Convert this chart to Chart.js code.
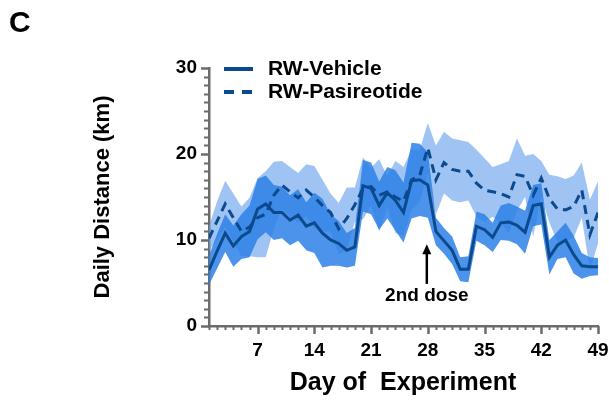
<!DOCTYPE html>
<html>
<head>
<meta charset="utf-8">
<script src="https://cdn.jsdelivr.net/npm/chart.js@4.4.1/dist/chart.umd.min.js"></script>
<style>
  html, body { margin: 0; padding: 0; background: #fff; }
  #wrap { position: relative; width: 609px; height: 407px; }
</style>
</head>
<body>
<div id="wrap"><canvas id="chart" role="img" aria-label="Daily running distance per day for RW-Vehicle and RW-Pasireotide"></canvas></div>
<script>
// Día del experimento
const days = [1, 2, 3, 4, 5, 6, 7, 8, 9, 10, 11, 12, 13, 14, 15, 16, 17, 18, 19, 20,
  21, 22, 23, 24, 25, 26, 27, 28, 29, 30, 31, 32, 33, 34, 35, 36, 37, 38, 39, 40,
  41, 42, 43, 44, 45, 46, 47, 48, 49];

// RW-Vehicle: media y SEM (km)
const vehicleMean = [6.5, 8.7, 10.8, 9.3, 10.4, 11.0, 13.6, 14.2, 13.2, 13.2,
  12.3, 12.9, 11.6, 12.0, 10.8, 10.0, 9.6, 8.8, 9.2, 16.3,
  16.0, 14.0, 15.5, 14.6, 13.2, 16.9, 17.0, 16.4, 11.0, 9.9,
  8.8, 6.6, 6.6, 11.6, 11.2, 10.3, 12.0, 12.1, 11.7, 10.9,
  14.0, 14.2, 8.0, 9.4, 10.0, 8.3, 7.0, 6.9, 6.9];
const vehicleSem = [1.7, 2.0, 2.2, 2.4, 2.6, 3.0, 3.5, 3.3, 3.2, 3.0,
  2.9, 3.0, 2.8, 3.5, 4.0, 3.0, 2.6, 2.0, 2.2, 3.0,
  3.0, 2.8, 3.0, 3.5, 3.5, 4.4, 4.2, 3.8, 1.6, 1.5,
  1.6, 1.4, 1.5, 1.7, 1.8, 1.7, 2.0, 2.2, 2.2, 2.5,
  2.4, 2.4, 2.0, 1.6, 2.0, 2.2, 1.5, 1.1, 1.0];

// RW-Pasireotide: media y SEM (km)
const pasMean = [10.2, 12.2, 14.2, 12.6, 11.0, 11.5, 12.6, 13.0, 15.2, 16.4,
  15.6, 14.9, 15.8, 15.0, 14.0, 13.2, 11.3, 12.5, 14.1, 16.0,
  16.2, 15.2, 15.6, 15.0, 14.5, 17.0, 17.5, 20.7, 17.0, 19.0,
  18.2, 18.0, 18.0, 16.6, 15.8, 15.6, 15.4, 15.0, 17.6, 17.4,
  15.2, 17.2, 14.8, 13.6, 13.5, 13.9, 15.8, 10.6, 13.2];
const pasSem = [1.4, 2.3, 2.7, 2.8, 2.9, 3.4, 4.6, 5.0, 3.9, 2.8,
  2.9, 2.9, 3.0, 3.6, 3.0, 2.2, 3.0, 3.6, 2.0, 3.6,
  2.2, 4.2, 1.8, 4.2, 4.0, 3.5, 3.0, 2.9, 4.0, 3.6,
  3.6, 3.6, 3.4, 3.9, 3.7, 2.9, 3.4, 4.2, 4.2, 2.4,
  4.8, 2.0, 2.8, 3.8, 3.6, 3.6, 3.2, 4.1, 3.6];

const seriesNames = ['RW-Vehicle', 'RW-Pasireotide'];
const xTicks = [7, 14, 21, 28, 35, 42, 49];
const yTicks = [0, 10, 20, 30];

// flecha "2nd dose"
const doseDay = 28;
const doseFrom = 4.9;
const doseTo = 9.5;

const FONT = "'Liberation Sans', Arial, Helvetica, sans-serif";
const NAVY = '#0b4a8e';
const AXIS = '#6b6b6b';

const up = (m, s) => m.map((v, i) => v + s[i]);
const down = (m, s) => m.map((v, i) => v - s[i]);

// ticks mayores y menores + textos sueltos
const extras = {
  id: 'extras',
  afterDraw(chart) {
    const { ctx, chartArea: a, scales: { x, y } } = chart;
    ctx.save();
    ctx.strokeStyle = AXIS;
    ctx.lineCap = 'butt';
    days.forEach((d) => {
      const px = Math.round(x.getPixelForValue(d)) + 0.5;
      const major = xTicks.includes(d);
      ctx.lineWidth = major ? 2.5 : 2;
      ctx.beginPath();
      ctx.moveTo(px, a.bottom);
      ctx.lineTo(px, a.bottom + (major ? 8 : 4));
      ctx.stroke();
    });
    for (let v = 0; v <= 30; v++) {
      const py = Math.round(y.getPixelForValue(v)) + 0.5;
      const major = yTicks.includes(v);
      ctx.lineWidth = major ? 2.5 : 2;
      ctx.beginPath();
      ctx.moveTo(a.left - (major ? 8 : 5), py);
      ctx.lineTo(a.left, py);
      ctx.stroke();
    }

    ctx.fillStyle = '#000';
    ctx.textBaseline = 'middle';

    // letra del panel
    ctx.font = 'bold 30px ' + FONT;
    ctx.textAlign = 'left';
    ctx.fillText('C', 9, 24);

    // leyenda
    ctx.strokeStyle = NAVY;
    ctx.lineWidth = 4;
    ctx.beginPath();
    ctx.moveTo(224, 69);
    ctx.lineTo(253, 69);
    ctx.stroke();
    ctx.setLineDash([10, 8]);
    ctx.beginPath();
    ctx.moveTo(224, 92);
    ctx.lineTo(253, 92);
    ctx.stroke();
    ctx.setLineDash([]);
    ctx.font = 'bold 21px ' + FONT;
    ctx.fillText(seriesNames[0], 268, 69);
    ctx.fillText(seriesNames[1], 268, 92);

    // títulos de ejes
    ctx.font = 'bold 22px ' + FONT;
    ctx.textAlign = 'center';
    ctx.save();
    ctx.translate(103, (a.top + a.bottom) / 2);
    ctx.rotate(-Math.PI / 2);
    ctx.fillText('Daily Distance (km)', 0, 0);
    ctx.restore();
    ctx.font = 'bold 25px ' + FONT;
    ctx.fillText('Day of  Experiment', 403, 383);

    // flecha 2nd dose
    const ax = x.getPixelForValue(doseDay) - 1;
    const y0 = y.getPixelForValue(doseFrom);
    const y1 = y.getPixelForValue(doseTo);
    ctx.strokeStyle = '#000';
    ctx.lineWidth = 2.5;
    ctx.beginPath();
    ctx.moveTo(ax, y0);
    ctx.lineTo(ax, y1 + 8);
    ctx.stroke();
    ctx.beginPath();
    ctx.moveTo(ax, y1);
    ctx.lineTo(ax - 4.5, y1 + 10);
    ctx.lineTo(ax + 4.5, y1 + 10);
    ctx.closePath();
    ctx.fill();
    ctx.font = 'bold 19px ' + FONT;
    ctx.fillText('2nd dose', ax, y0 + 12);
    ctx.restore();
  }
};

new Chart(document.getElementById('chart'), {
  type: 'line',
  data: {
    labels: days,
    datasets: [
      { label: seriesNames[0], data: vehicleMean, borderColor: NAVY, borderWidth: 3, pointRadius: 0, fill: false, order: 0 },
      { label: seriesNames[1], data: pasMean, borderColor: NAVY, borderWidth: 3, borderDash: [9, 6], pointRadius: 0, fill: false, order: 0 },
      { label: 'veh+', data: up(vehicleMean, vehicleSem), borderWidth: 0, pointRadius: 0, backgroundColor: 'rgba(45,128,232,0.85)', fill: { target: 3 }, order: 1 },
      { label: 'veh-', data: down(vehicleMean, vehicleSem), borderWidth: 0, pointRadius: 0, fill: false, order: 1 },
      { label: 'pas+', data: up(pasMean, pasSem), borderWidth: 0, pointRadius: 0, backgroundColor: 'rgba(100,160,238,0.62)', fill: { target: 5 }, order: 2 },
      { label: 'pas-', data: down(pasMean, pasSem), borderWidth: 0, pointRadius: 0, fill: false, order: 2 }
    ]
  },
  options: {
    responsive: true,
    maintainAspectRatio: false,
    animation: false,
    events: [],
    layout: { padding: { left: 0, top: 68, right: 11, bottom: 0 } },
    plugins: { legend: { display: false }, tooltip: { enabled: false } },
    scales: {
      x: {
        type: 'linear',
        min: 1,
        max: 49,
        afterFit: (s) => { s.height = 81; s.paddingRight = 0; s.paddingLeft = 0; },
        afterBuildTicks: (s) => { s.ticks = xTicks.map((v) => ({ value: v })); },
        ticks: { color: '#000', font: { family: FONT, size: 19, weight: 'bold' }, padding: 13, maxRotation: 0 },
        grid: { display: false, drawTicks: false },
        border: { display: true, color: AXIS, width: 2.5 }
      },
      y: {
        min: 0,
        max: 30,
        afterFit: (s) => { s.width = 209; s.paddingTop = 0; s.paddingBottom = 0; },
        afterBuildTicks: (s) => { s.ticks = yTicks.map((v) => ({ value: v })); },
        ticks: { color: '#000', font: { family: FONT, size: 19, weight: 'bold' }, padding: 12 },
        grid: { display: false, drawTicks: false },
        border: { display: true, color: AXIS, width: 2.5 }
      }
    }
  },
  plugins: [extras]
});
</script>
</body>
</html>
